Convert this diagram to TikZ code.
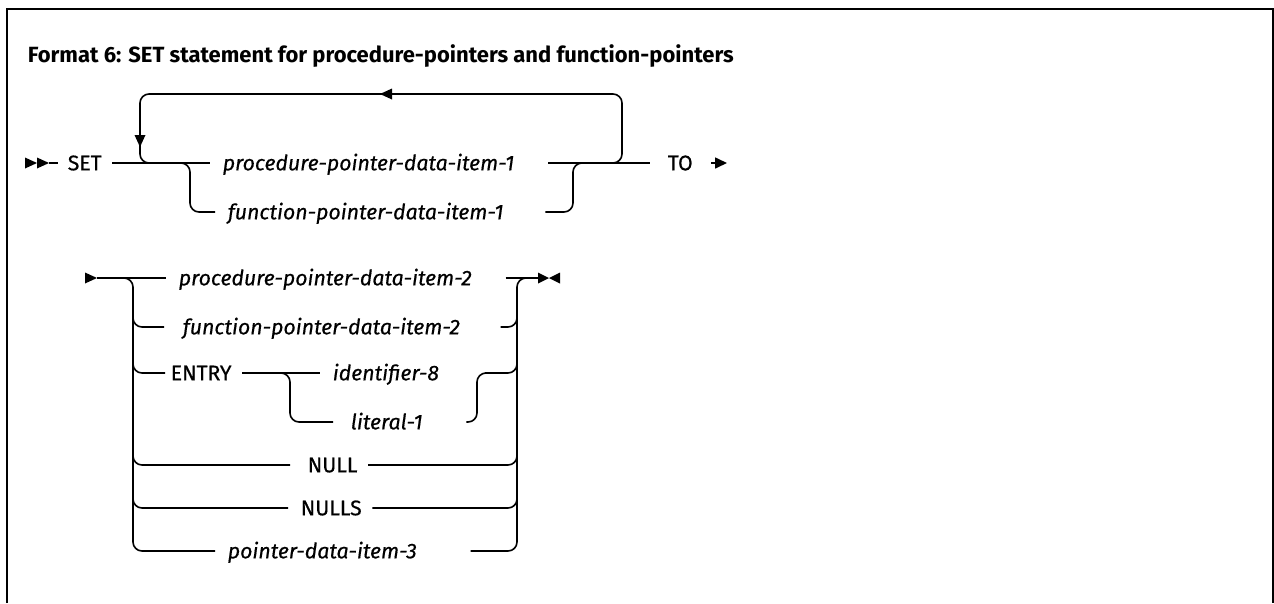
\documentclass[tikz,border=0pt]{standalone}
\usepackage{fontspec}
\setmainfont{Fira Sans}
\newfontfamily\diagfont{Fira Sans}[FakeBold=0.5]
\usetikzlibrary{arrows.meta}
\begin{document}
\begin{tikzpicture}[x=1pt,y=-1pt,line width=1.6pt,line cap=butt,
  rr/.style={rounded corners=9pt},
  kw/.style={anchor=west,inner xsep=0pt,inner ysep=0pt,text height=14.6pt,text depth=0pt,
    font=\diagfont\fontsize{21.2}{21.2}\selectfont,
    execute at begin node=\hspace*{5pt},execute at end node=\hspace*{10pt}},
  var/.style={kw,font=\diagfont\fontsize{21.3}{21.3}\selectfont\itshape,
    execute at begin node=\hspace*{7pt},execute at end node=\hspace*{23pt}},
  tip/.style={-{Triangle[length=12pt,width=11pt]}},
  title/.style={anchor=base west,inner sep=0pt,font=\fontsize{22}{22}\selectfont\bfseries}
]
\useasboundingbox (0,0) rectangle (1274,603);
% frame
\draw[line width=2pt] (7,603) -- (7,9) -- (1273,9) -- (1273,603);
\node[title] (ttl) at (27,62) {Format 6: SET statement for procedure-pointers and function-pointers};

% ---------- first part ----------
\coordinate (st1) at (49,163);
\fill (25,157.5) -- (37,163) -- (25,168.5) -- cycle;
\fill (37,157.5) -- (49,163) -- (37,168.5) -- cycle;
\node[kw,execute at begin node=\hspace*{4pt}] (set) at (58,163) {SET};
\node[var] (p1) at (210,163) {procedure-pointer-data-item-1};
\node[var,execute at end node=\hspace*{8pt}] (f1) at (215,212) {function-pointer-data-item-1};
\node[kw,execute at begin node=\hspace*{12pt},execute at end node=\hspace*{8pt}] (to) at (650,163) {TO};
\coordinate (end1) at (727,163);

\draw (st1) -- (set.west);
\draw (set.east) -- (p1.west);
\draw (p1.east) -- (to.west);
\draw[rr] (180,163) -- (190,163) -- (190,212) -- (f1.west);
\draw[rr] (f1.east) -- (573,212) -- (573,163) -- (585,163);
\draw[tip] (to.east) -- (end1);
% repeat loop
\draw[rr] (600,163) -- (622,163) -- (622,94) -- (140,94) -- (140,163) -- (158,163);
\fill (380,94) -- (392,88.5) -- (392,99.5) -- cycle;
\fill (140,147) -- (134.5,135) -- (145.5,135) -- cycle;

% ---------- second part ----------
\coordinate (st2) at (97,278);
\fill (85,272.5) -- (97,278) -- (85,283.5) -- cycle;
\coordinate (end2) at (538,278);
\fill (538,272.5) -- (549,278) -- (538,283.5) -- cycle;
\fill (560,272.5) -- (549,278) -- (560,283.5) -- cycle;

\node[var] (p2) at (166,278) {procedure-pointer-data-item-2};
\node[var,execute at begin node=\hspace*{6pt},execute at end node=\hspace*{7pt}] (f2) at (164,327) {function-pointer-data-item-2};
\node[kw] (entry) at (165,373) {ENTRY};
\node[var,execute at end node=\hspace*{12pt}] (id8) at (320,373) {identifier-8};
\node[var,execute at begin node=\hspace*{5pt},execute at end node=\hspace*{10pt}] (lit) at (333,422) {literal-1};
\node[kw,execute at begin node=\hspace*{12pt}] (null) at (290,465) {NULL};
\node[kw,execute at begin node=\hspace*{7pt}] (nulls) at (288,508) {NULLS};
\node[var,execute at end node=\hspace*{20pt}] (pd3) at (215,551) {pointer-data-item-3};

\draw (st2) -- (p2.west);
\draw (p2.east) -- (end2);
% left rail
\draw[rr] (123,278) -- (133,278) -- (133,551) -- (pd3.west);
\draw[rr] (133,300) -- (133,327) -- (f2.west);
\draw[rr] (133,350) -- (133,373) -- (entry.west);
\draw[rr] (133,440) -- (133,465) -- (null.west);
\draw[rr] (133,485) -- (133,508) -- (nulls.west);
% right rail
\draw[rr] (pd3.east) -- (517,551) -- (517,278) -- (527,278);
\draw[rr] (f2.east) -- (517,327) -- (517,305);
\draw[rr] (id8.east) -- (517,373) -- (517,350);
\draw[rr] (null.east) -- (517,465) -- (517,440);
\draw[rr] (nulls.east) -- (517,508) -- (517,485);
% ENTRY sub-choice
\draw (entry.east) -- (id8.west);
\draw[rr] (280,373) -- (290,373) -- (290,422) -- (lit.west);
\draw[rr] (lit.east) -- (477,422) -- (477,373) -- (487,373);
\end{tikzpicture}
\end{document}
